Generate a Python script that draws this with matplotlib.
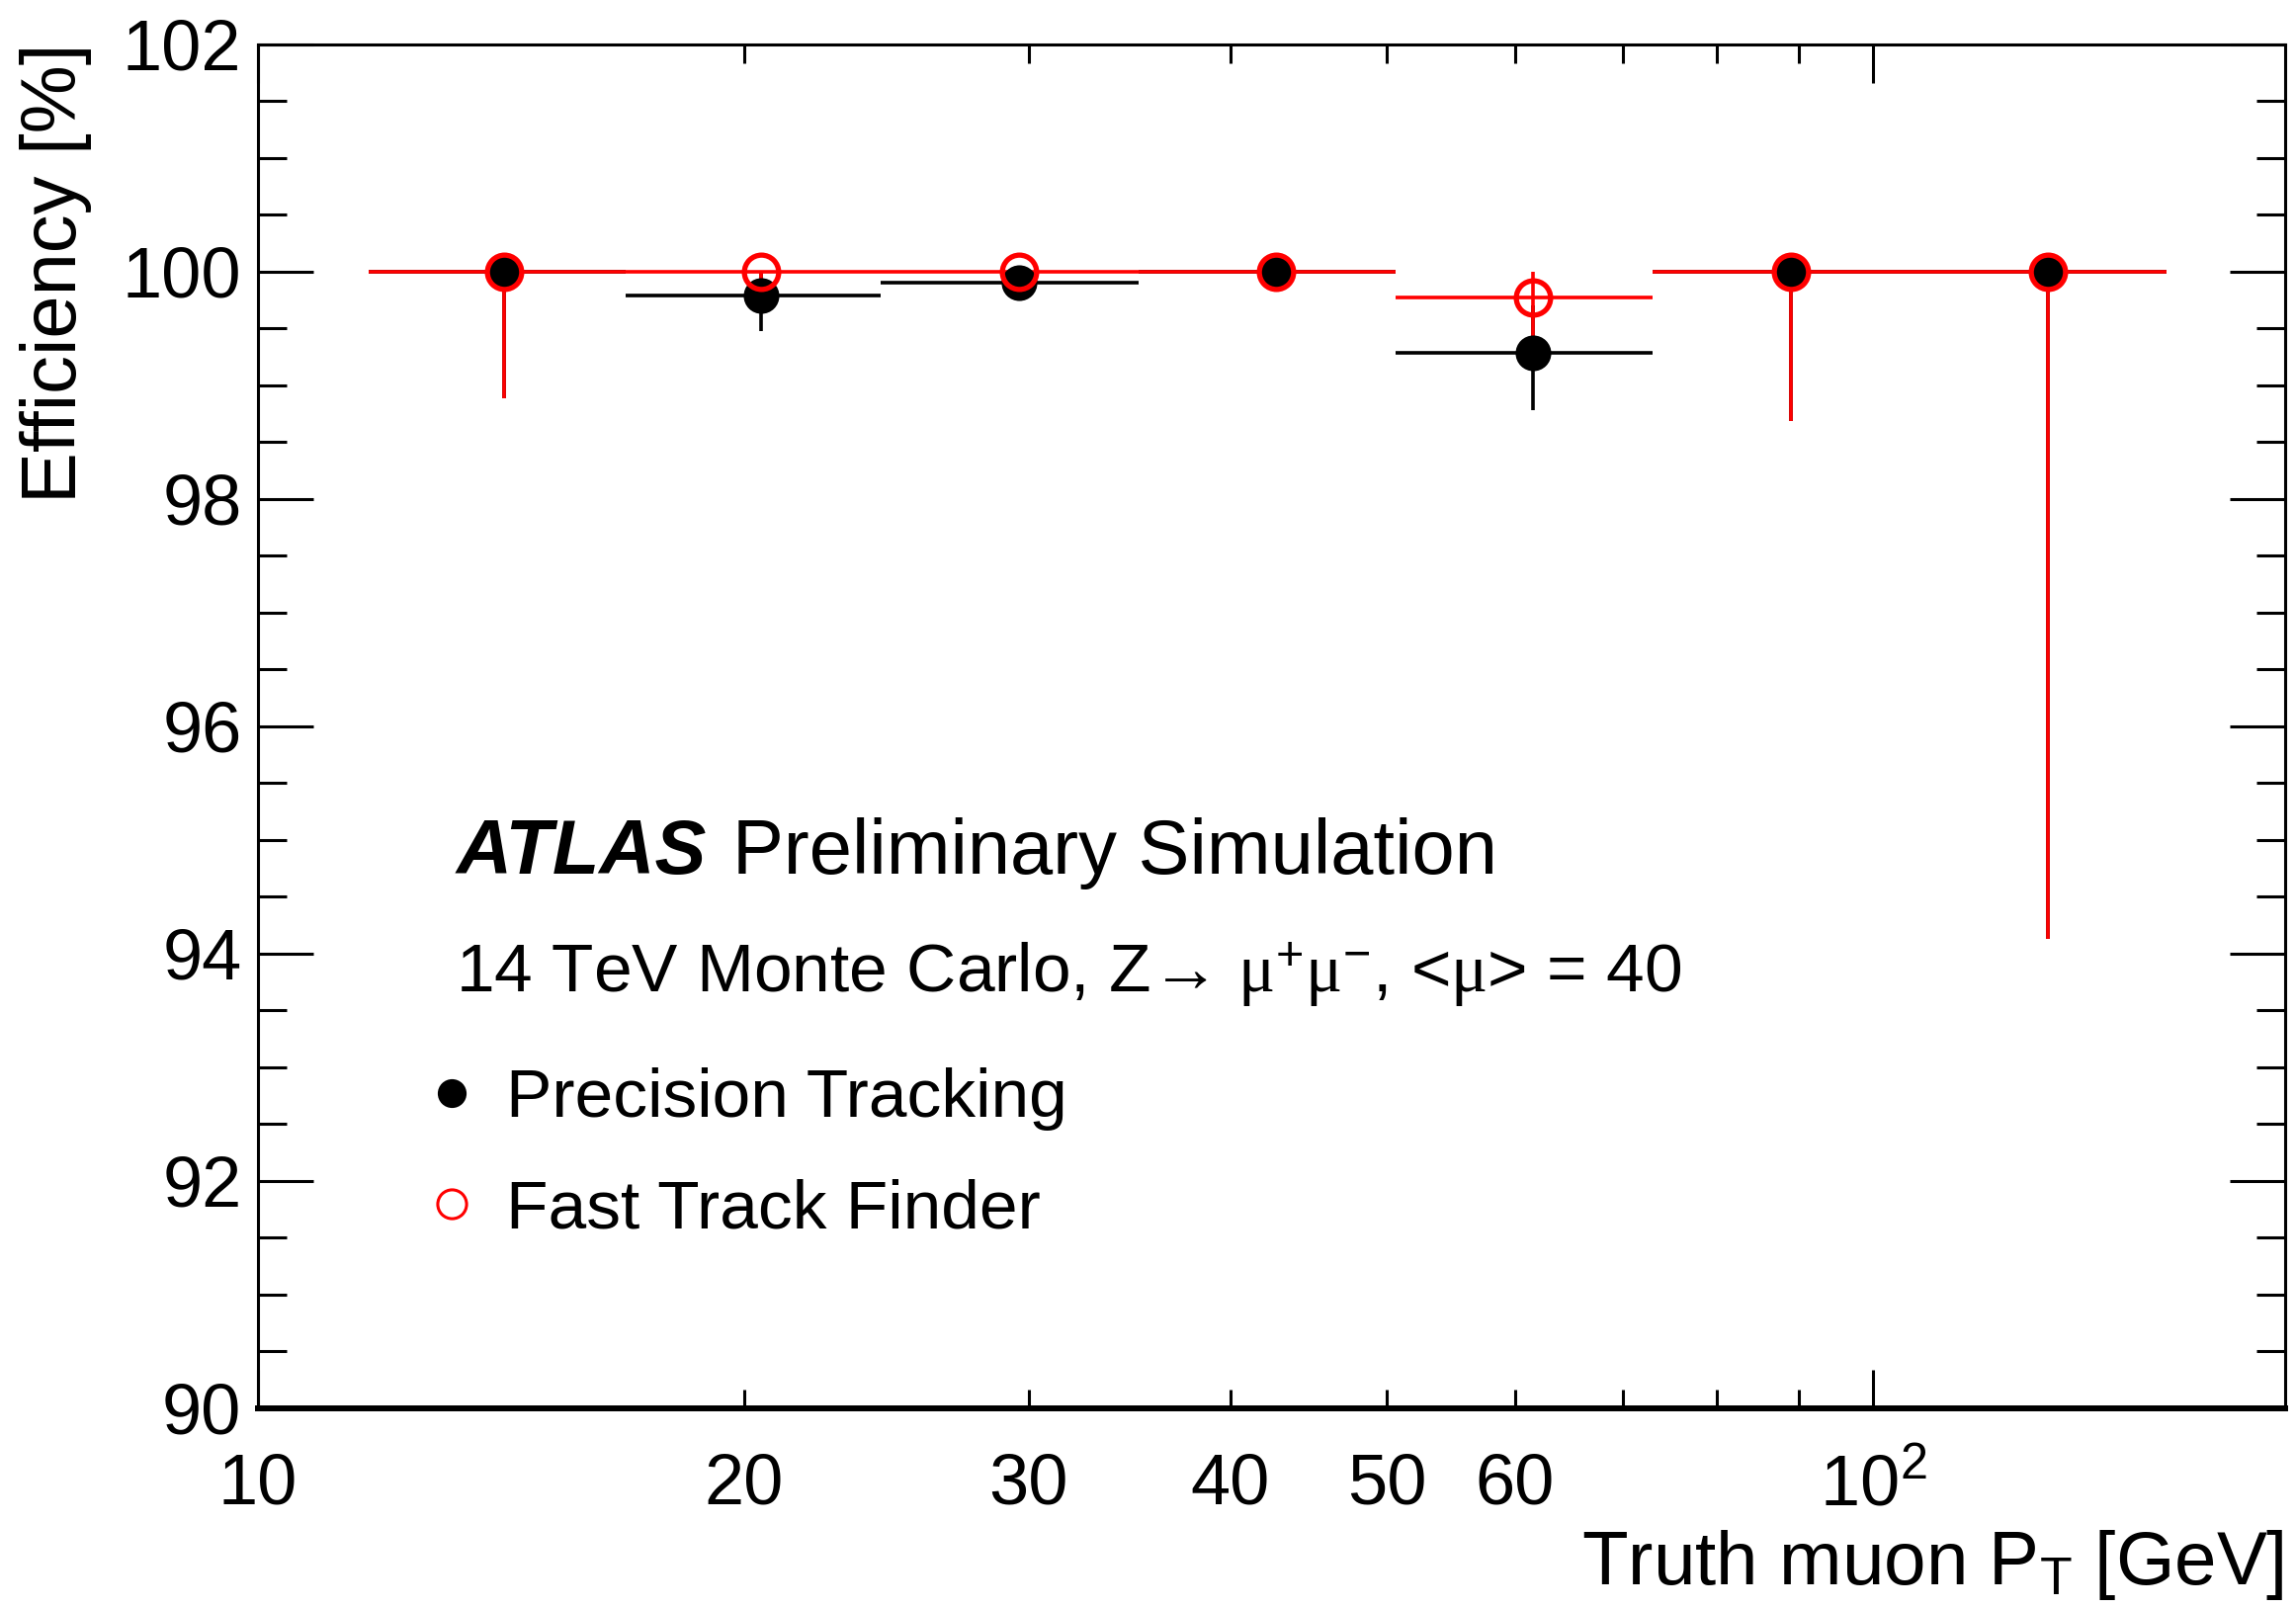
import matplotlib
matplotlib.use("Agg")
import matplotlib.pyplot as plt
from matplotlib.lines import Line2D
from matplotlib.ticker import MultipleLocator

plt.rcParams['font.family'] = ['Liberation Sans', 'DejaVu Sans']
plt.rcParams['mathtext.fontset'] = 'custom'
plt.rcParams['mathtext.rm'] = 'Liberation Serif'
plt.rcParams['mathtext.it'] = 'Liberation Serif:italic'
plt.rcParams['mathtext.bf'] = 'Liberation Serif:bold'

# muon pT bins [GeV]
pt_center = [14.2, 20.5, 29.6, 42.7, 61.6, 88.9, 128.3]
pt_low = [11.7, 16.9, 24.3, 35.1, 50.6, 73.0, 105.3]
pt_high = [16.9, 24.3, 35.1, 50.6, 73.0, 105.3, 151.9]

# precision tracking efficiency [%]
prec_eff = [100.0, 99.79, 99.90, 100.0, 99.29, 100.0, 100.0]
prec_err_dn = [1.11, 0.31, 0.12, 0.0, 0.51, 1.31, 5.87]
prec_err_up = [0.0, 0.21, 0.10, 0.0, 0.41, 0.0, 0.0]

# fast track finder efficiency [%]
ftf_eff = [100.0, 100.0, 100.0, 100.0, 99.77, 100.0, 100.0]
ftf_err_dn = [1.11, 0.24, 0.08, 0.0, 0.37, 1.31, 5.87]
ftf_err_up = [0.0, 0.0, 0.0, 0.0, 0.23, 0.0, 0.0]

xerr = [[c - lo for c, lo in zip(pt_center, pt_low)],
        [hi - c for c, hi in zip(pt_center, pt_high)]]

fig = plt.figure(figsize=(23.23, 16.27), dpi=100)
ax = fig.add_axes([0.1124, 0.1242, 0.8829, 0.8482])

RED = '#ff0000'
ax.errorbar(pt_center, prec_eff, yerr=[prec_err_dn, prec_err_up], xerr=xerr,
            fmt='none', ecolor='black', elinewidth=2.6, capsize=0, zorder=2)
ax.errorbar(pt_center, ftf_eff, yerr=[ftf_err_dn, ftf_err_up], xerr=xerr,
            fmt='none', ecolor=RED, elinewidth=2.6, capsize=0, zorder=3)
ax.plot(pt_center, prec_eff, 'o', color='black', ms=26, mew=0, zorder=4)
ax.plot(pt_center, ftf_eff, 'o', mfc='none', mec=RED, ms=25, mew=3.8, zorder=5)

ax.set_xscale('log')
ax.set_xlim(10, 180)
ax.set_ylim(90, 102)

ax.set_xticks([10, 100], ['10', r'$\mathregular{10^{2}}$'])
ax.set_xticks([20, 30, 40, 50, 60, 70, 80, 90],
              ['20', '30', '40', '50', '60', '', '', ''], minor=True)
ax.set_yticks([90, 92, 94, 96, 98, 100, 102])
ax.yaxis.set_minor_locator(MultipleLocator(0.5))

ax.tick_params(which='both', direction='in', top=True, right=True,
               width=2.2, labelsize=52)
ax.tick_params(axis='x', which='major', length=28, pad=32)
ax.tick_params(axis='x', which='minor', length=14, pad=32)
ax.tick_params(axis='y', which='major', length=40, pad=12)
ax.tick_params(axis='y', which='minor', length=21, pad=12)

for side in ['top', 'left', 'right']:
    ax.spines[side].set_linewidth(2.2)
ax.spines['bottom'].set_linewidth(4.3)

fig.text(0.0245, 0.973, 'Efficiency [%]', rotation=90, ha='center', va='top',
         fontsize=56)
fig.text(0.9948, 0.0148, r'Truth muon P$_{\mathregular{T}}$ [GeV]',
         ha='right', va='baseline', fontsize=55)

fig.text(0.1985, 0.4567, 'ATLAS', fontsize=56, fontweight='bold',
         fontstyle='italic', va='baseline')
fig.text(0.319, 0.4567, 'Preliminary Simulation', fontsize=56, va='baseline')
fig.text(0.1985, 0.3829,
         '14 TeV Monte Carlo, Z\u2192 '
         r'$\mathrm{\mu}^{\mathregular{+}}\mathrm{\mu}^{\mathregular{-}}$'
         r', <$\mathrm{\mu}$> = 40',
         fontsize=50, va='baseline')

handles = [
    Line2D([], [], ls='none', marker='o', color='black', ms=21, mew=0),
    Line2D([], [], ls='none', marker='o', mfc='none', mec=RED, ms=21, mew=2.2),
]
ax.legend(handles, ['Precision Tracking', 'Fast Track Finder'],
          loc='upper left', bbox_to_anchor=(422 / 2323, 1 - 1080 / 1627),
          bbox_transform=fig.transFigure, frameon=False, fontsize=50,
          handlelength=1.0, handletextpad=0.3, borderpad=0, borderaxespad=0,
          labelspacing=0.7)

fig.savefig('out.png', dpi=100)
